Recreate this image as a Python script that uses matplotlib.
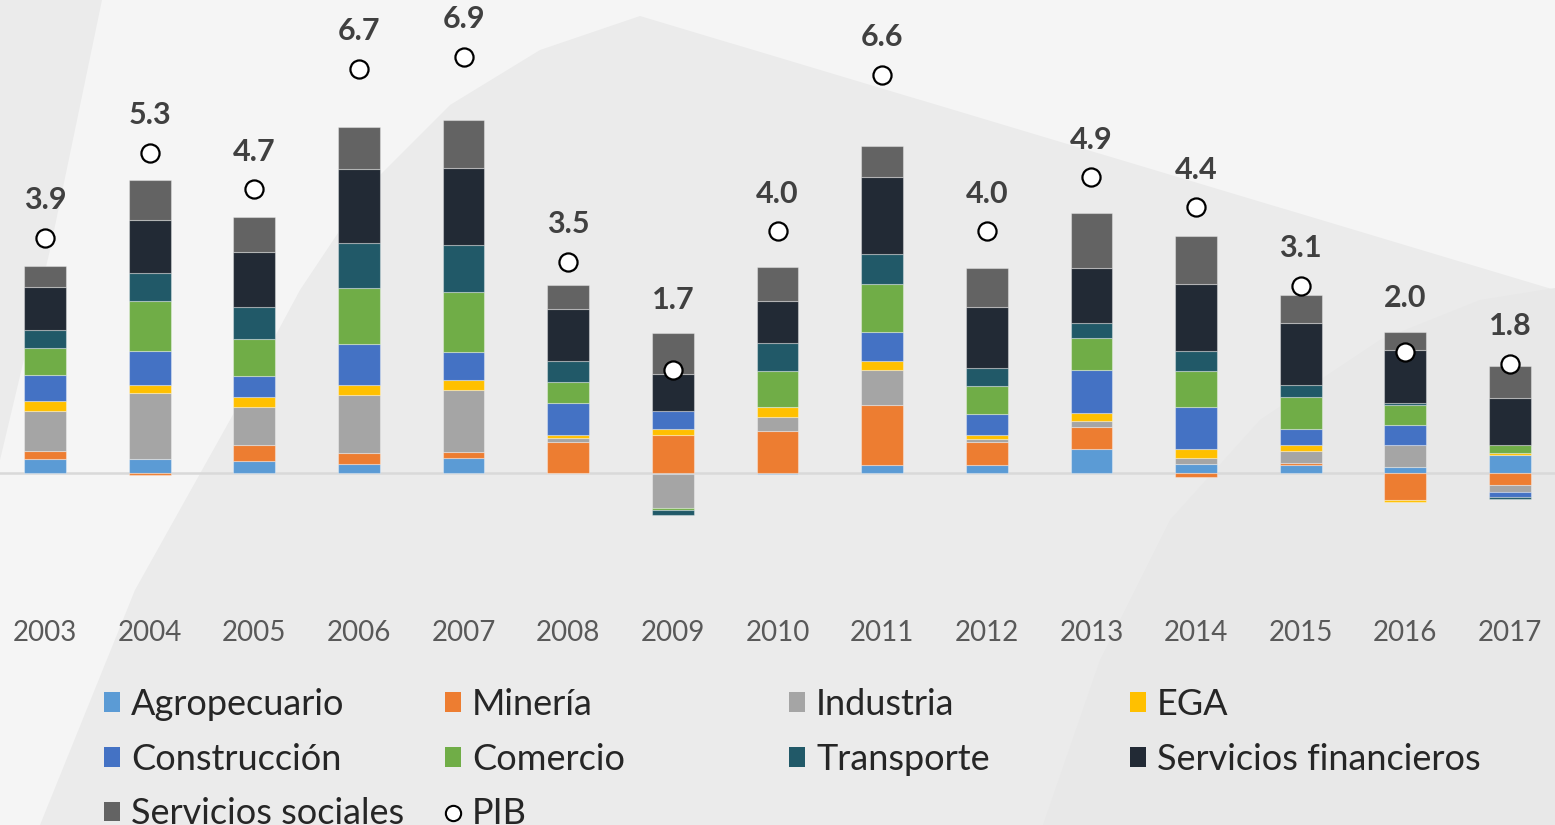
import numpy as np
import matplotlib.pyplot as plt
from matplotlib.patches import Patch, Polygon
from matplotlib.lines import Line2D

plt.rcParams['font.family'] = ['Lato', 'DejaVu Sans']

# data (contribución al crecimiento, p.p.)
years = ['2003', '2004', '2005', '2006', '2007', '2008', '2009', '2010',
         '2011', '2012', '2013', '2014', '2015', '2016', '2017']
agropecuario = [0.22, 0.23, 0.19, 0.15, 0.25, -0.01, -0.03, -0.02, 0.13, 0.12, 0.39, 0.15, 0.13, 0.09, 0.29]
mineria = [0.14, -0.04, 0.27, 0.17, 0.09, 0.51, 0.62, 0.69, 0.99, 0.39, 0.36, -0.07, 0.03, -0.46, -0.20]
industria = [0.66, 1.09, 0.62, 0.96, 1.03, 0.07, -0.56, 0.23, 0.59, 0.04, 0.10, 0.10, 0.20, 0.37, -0.13]
ega = [0.17, 0.14, 0.17, 0.17, 0.17, 0.04, 0.10, 0.17, 0.14, 0.07, 0.14, 0.14, 0.10, -0.03, 0.04]
construccion = [0.43, 0.56, 0.36, 0.69, 0.46, 0.53, 0.30, 0.0, 0.49, 0.35, 0.72, 0.69, 0.26, 0.33, -0.08]
comercio = [0.44, 0.83, 0.60, 0.93, 1.00, 0.36, -0.03, 0.60, 0.79, 0.47, 0.53, 0.60, 0.54, 0.33, 0.13]
transporte = [0.30, 0.46, 0.53, 0.74, 0.77, 0.34, -0.09, 0.46, 0.50, 0.30, 0.24, 0.33, 0.20, 0.03, -0.03]
financieros = [0.72, 0.88, 0.92, 1.22, 1.28, 0.86, 0.62, 0.69, 1.28, 1.00, 0.92, 1.12, 1.02, 0.89, 0.78]
sociales = [0.34, 0.66, 0.58, 0.70, 0.80, 0.40, 0.67, 0.57, 0.50, 0.66, 0.90, 0.80, 0.47, 0.30, 0.53]
pib = [3.9, 5.3, 4.7, 6.7, 6.9, 3.5, 1.7, 4.0, 6.6, 4.0, 4.9, 4.4, 3.1, 2.0, 1.8]

names = ['Agropecuario', 'Minería', 'Industria', 'EGA', 'Construcción',
         'Comercio', 'Transporte', 'Servicios financieros', 'Servicios sociales']
series = [agropecuario, mineria, industria, ega, construccion,
          comercio, transporte, financieros, sociales]
colors = ['#5b9bd5', '#ed7d31', '#a5a5a5', '#ffc000', '#4472c4',
          '#70ad47', '#215968', '#222a35', '#636363']

W, H = 1555, 825
fig = plt.figure(figsize=(W / 100, H / 100), dpi=100, facecolor='#ebebeb')


def px(pts):
    return [(x / W, 1 - y / H) for x, y in pts]


# decorative background shapes (behind the axes)
light = [(102, 0), (1555, 0), (1555, 290), (640, 16), (540, 50), (450, 105),
         (370, 185), (300, 290), (230, 420), (135, 590), (40, 825), (0, 825),
         (0, 460), (50, 250)]
fig.patches.append(Polygon(px(light), closed=True, transform=fig.transFigure,
                           facecolor='#f5f5f5', edgecolor='none', zorder=-2))
shade = [(1043, 825), (1100, 660), (1170, 520), (1260, 420), (1380, 340),
         (1480, 300), (1555, 288), (1555, 825)]
fig.patches.append(Polygon(px(shade), closed=True, transform=fig.transFigure,
                           facecolor='#e8e8e8', edgecolor='none', zorder=-1))

ax = fig.add_axes([0, 265 / H, 1, 560 / H])
ax.set_facecolor('none')

x = np.arange(len(years))
pos = np.zeros(len(years))
neg = np.zeros(len(years))
for name, vals, c in zip(names, series, colors):
    v = np.array(vals)
    bottom = np.where(v >= 0, pos, neg)
    ax.bar(x, v, 0.4, bottom=bottom, color=c, edgecolor=(1, 1, 1, 0.35),
           linewidth=0.8, zorder=3)
    pos += np.clip(v, 0, None)
    neg += np.clip(v, None, 0)

ax.axhline(0, color='#d9d9d9', lw=1.8, zorder=2)

ax.scatter(x, pib, s=170, facecolor='white', edgecolor='black', linewidth=1.6, zorder=5)
# labels sit above whichever is higher: the marker or the stacked bar
for xi, p, top in zip(x, pib, pos):
    if p >= top:
        anchor, off = p, 17
    else:
        anchor, off = top, 14
    ax.annotate(f'{p:.1f}', (xi, anchor), xytext=(0, off), textcoords='offset points',
                ha='center', va='bottom', fontsize=22, fontweight='bold', color='#404040')

ax.set_xlim(-0.43, 14.43)
ax.set_ylim(-1.45, 7.84)
ax.set_xticks(x, years)
ax.set_yticks([])
ax.tick_params(axis='x', length=0, pad=43, labelsize=20, labelcolor='#595959')
for s in ax.spines.values():
    s.set_visible(False)

# legend, four columns placed by hand
handles = [Patch(facecolor=c, label=n) for n, c in zip(names, colors)]
handles.append(Line2D([], [], marker='o', linestyle='none', markerfacecolor='white',
                      markeredgecolor='black', markersize=11, markeredgewidth=1.5, label='PIB'))
columns = [(104, [0, 4, 8]), (445, [1, 5, 9]), (789, [2, 6]), (1130, [3, 7])]
for x0, idx in columns:
    fig.legend(handles=[handles[i] for i in idx], loc='upper left',
               bbox_to_anchor=(x0 / W, 1 - 688 / H), frameon=False, fontsize=26,
               handlelength=0.45, handleheight=0.45, handletextpad=0.3,
               labelspacing=0.6, borderpad=0, borderaxespad=0, labelcolor='#262626')

fig.savefig('out.png', dpi=100, facecolor=fig.get_facecolor())
